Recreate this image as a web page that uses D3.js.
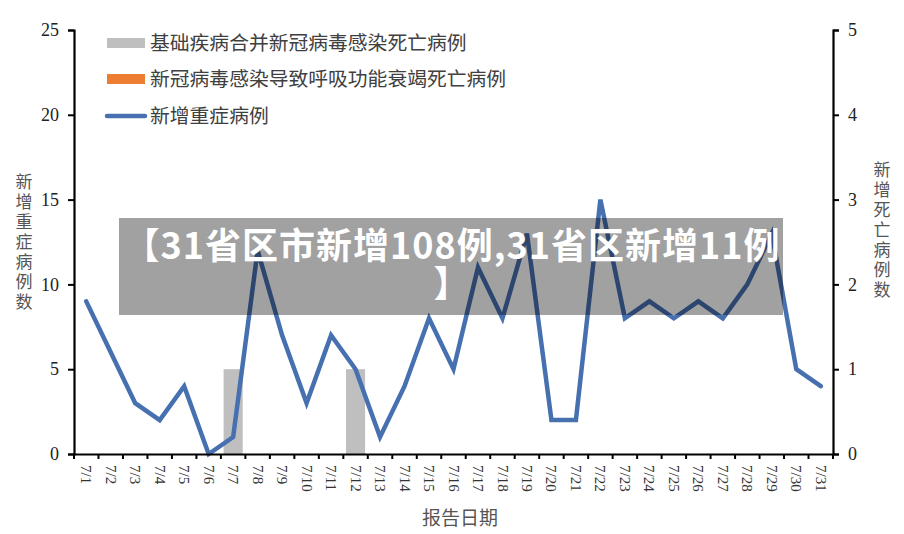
<!DOCTYPE html>
<html><head><meta charset="utf-8">
<script src="https://cdn.jsdelivr.net/npm/d3@7"></script>
<style>body{margin:0;background:#fff}svg{display:block}</style>
</head><body>
<svg id="c" width="904" height="534"></svg>
<script>
const dates = ["7/1","7/2","7/3","7/4","7/5","7/6","7/7","7/8","7/9","7/10","7/11","7/12","7/13","7/14","7/15","7/16","7/17","7/18","7/19","7/20","7/21","7/22","7/23","7/24","7/25","7/26","7/27","7/28","7/29","7/30","7/31"];
const severe = [9,6,3,2,4,0,1,12,7,3,7,5,1,4,8,5,11,8,13,2,2,15,8,9,8,9,8,10,13,5,4];
const deathsComorbid = [0,0,0,0,0,0,1,0,0,0,0,1,0,0,0,0,0,0,0,0,0,0,0,0,0,0,0,0,0,0,0];
const deathsRespiratory = [0,0,0,0,0,0,0,0,0,0,0,0,0,0,0,0,0,0,0,0,0,0,0,0,0,0,0,0,0,0,0];
const leftTicks = [0,5,10,15,20,25];
const rightTicks = [0,1,2,3,4,5];
const legendLabels = ["基础疾病合并新冠病毒感染死亡病例","新冠病毒感染导致呼吸功能衰竭死亡病例","新增重症病例"];
const leftTitle = "新增重症病例数";
const rightTitle = "新增死亡病例数";
const xTitle = "报告日期";
const bannerLines = ["【31省区市新增108例,31省区新增11例","】"];

const svg = d3.select("#c");
const L = 74, R = 833, T = 30, B = 454;
const x = d3.scaleBand().domain(dates).range([L, R]).paddingInner(0.22).paddingOuter(0.11);
const xp = d3.scalePoint().domain(dates).range([L, R]).padding(0.5);
const yL = d3.scaleLinear().domain([0,25]).range([B, T]);
const yR = d3.scaleLinear().domain([0,5]).range([B, T]);
const serif = "'Liberation Serif','Times New Roman',serif";
const cjk = "'Noto Sans CJK SC','Noto Sans',sans-serif";

// bars (stacked deaths, right axis)
svg.append("g").selectAll("rect").data(dates).join("rect")
  .attr("x", d => x(d)).attr("width", x.bandwidth())
  .attr("y", (d,i) => yR(deathsComorbid[i])).attr("height", (d,i) => yR(0) - yR(deathsComorbid[i]))
  .attr("fill", "#bfbfbf");
svg.append("g").selectAll("rect").data(dates).join("rect")
  .attr("x", d => x(d)).attr("width", x.bandwidth())
  .attr("y", (d,i) => yR(deathsComorbid[i] + deathsRespiratory[i])).attr("height", (d,i) => yR(0) - yR(deathsRespiratory[i]))
  .attr("fill", "#ed7d31");

// line
svg.append("path").datum(severe)
  .attr("d", d3.line().x((d,i) => xp(dates[i])).y(d => yL(d)))
  .attr("fill", "none").attr("stroke", "#4670b0").attr("stroke-width", 4.5)
  .attr("stroke-linejoin", "miter").attr("stroke-linecap", "round");

// axes
const gL = svg.append("g").attr("transform", `translate(${L},0)`)
  .call(d3.axisLeft(yL).tickValues(leftTicks).tickFormat(d3.format("d")).tickSize(6).tickPadding(9));
const gR = svg.append("g").attr("transform", `translate(${R},0)`)
  .call(d3.axisRight(yR).tickValues(rightTicks).tickFormat(d3.format("d")).tickSize(6).tickPadding(9));
[gL, gR].forEach(g => {
  g.select(".domain").attr("stroke", "#000").attr("stroke-width", 2.2);
  g.selectAll(".tick line").attr("stroke", "#000").attr("stroke-width", 2);
  g.selectAll("text").attr("font-family", serif).attr("font-size", 18).attr("fill", "#222");
});
const gX = svg.append("g").attr("transform", `translate(0,${B})`)
  .call(d3.axisBottom(x).tickSize(0).tickFormat(""));
gX.select(".domain").attr("stroke", "#000").attr("stroke-width", 2.2);
// boundary ticks
const bounds = dates.map(d => x(d) - x.step()*x.paddingInner()/2).concat([R]);
svg.append("g").selectAll("line").data(bounds).join("line")
  .attr("x1", d => d).attr("x2", d => d).attr("y1", B).attr("y2", B + 5)
  .attr("stroke", "#000").attr("stroke-width", 2);
// rotated tick labels
svg.append("g").selectAll("text").data(dates).join("text")
  .attr("transform", d => `translate(${xp(d)},${B + 11}) rotate(90)`)
  .attr("dy", "0.33em").attr("text-anchor", "start")
  .attr("font-family", serif).attr("font-size", 15).attr("fill", "#333")
  .text(d => d);

// axis titles (vertical writing)
function vtitle(str, cx, y0) {
  svg.append("text").attr("x", cx).attr("y", y0)
    .style("writing-mode", "vertical-rl").style("text-orientation", "upright")
    .attr("letter-spacing", 3)
    .attr("font-family", cjk).attr("font-size", 17).attr("fill", "#555").text(str);
}
vtitle(leftTitle, 24, 173);
vtitle(rightTitle, 882, 161);
svg.append("text").attr("x", 460).attr("y", 518).attr("dy", "0.35em").attr("text-anchor", "middle")
  .attr("font-family", cjk).attr("font-size", 19).attr("fill", "#555").text(xTitle);

// legend
const lg = svg.append("g");
const ly = [43, 79, 116];
lg.append("rect").attr("x", 107).attr("y", ly[0]-5).attr("width", 38).attr("height", 10).attr("fill", "#bfbfbf");
lg.append("rect").attr("x", 107).attr("y", ly[1]-5).attr("width", 38).attr("height", 10).attr("fill", "#ed7d31");
lg.append("line").attr("x1", 107).attr("x2", 145).attr("y1", ly[2]).attr("y2", ly[2])
  .attr("stroke", "#4670b0").attr("stroke-width", 4.5).attr("stroke-linecap", "round");
lg.selectAll("text").data(legendLabels).join("text")
  .attr("x", 150).attr("y", (d,i) => ly[i]).attr("dy", "0.35em")
  .attr("font-family", cjk).attr("font-size", 19.8).attr("fill", "#404040").text(d => d);

// banner overlay
svg.append("rect").attr("x", 119).attr("y", 218).attr("width", 664).attr("height", 97)
  .attr("fill", "rgba(0,0,0,0.37)");
const bt = svg.append("text").attr("text-anchor", "middle")
  .attr("font-family", cjk).attr("font-weight", 700).attr("font-size", 36)
  .attr("letter-spacing", 1).attr("fill", "#fff");
bt.selectAll("tspan").data(bannerLines).join("tspan")
  .attr("x", 452).attr("y", (d,i) => 259 + i*38).text(d => d);
</script>
</body></html>
